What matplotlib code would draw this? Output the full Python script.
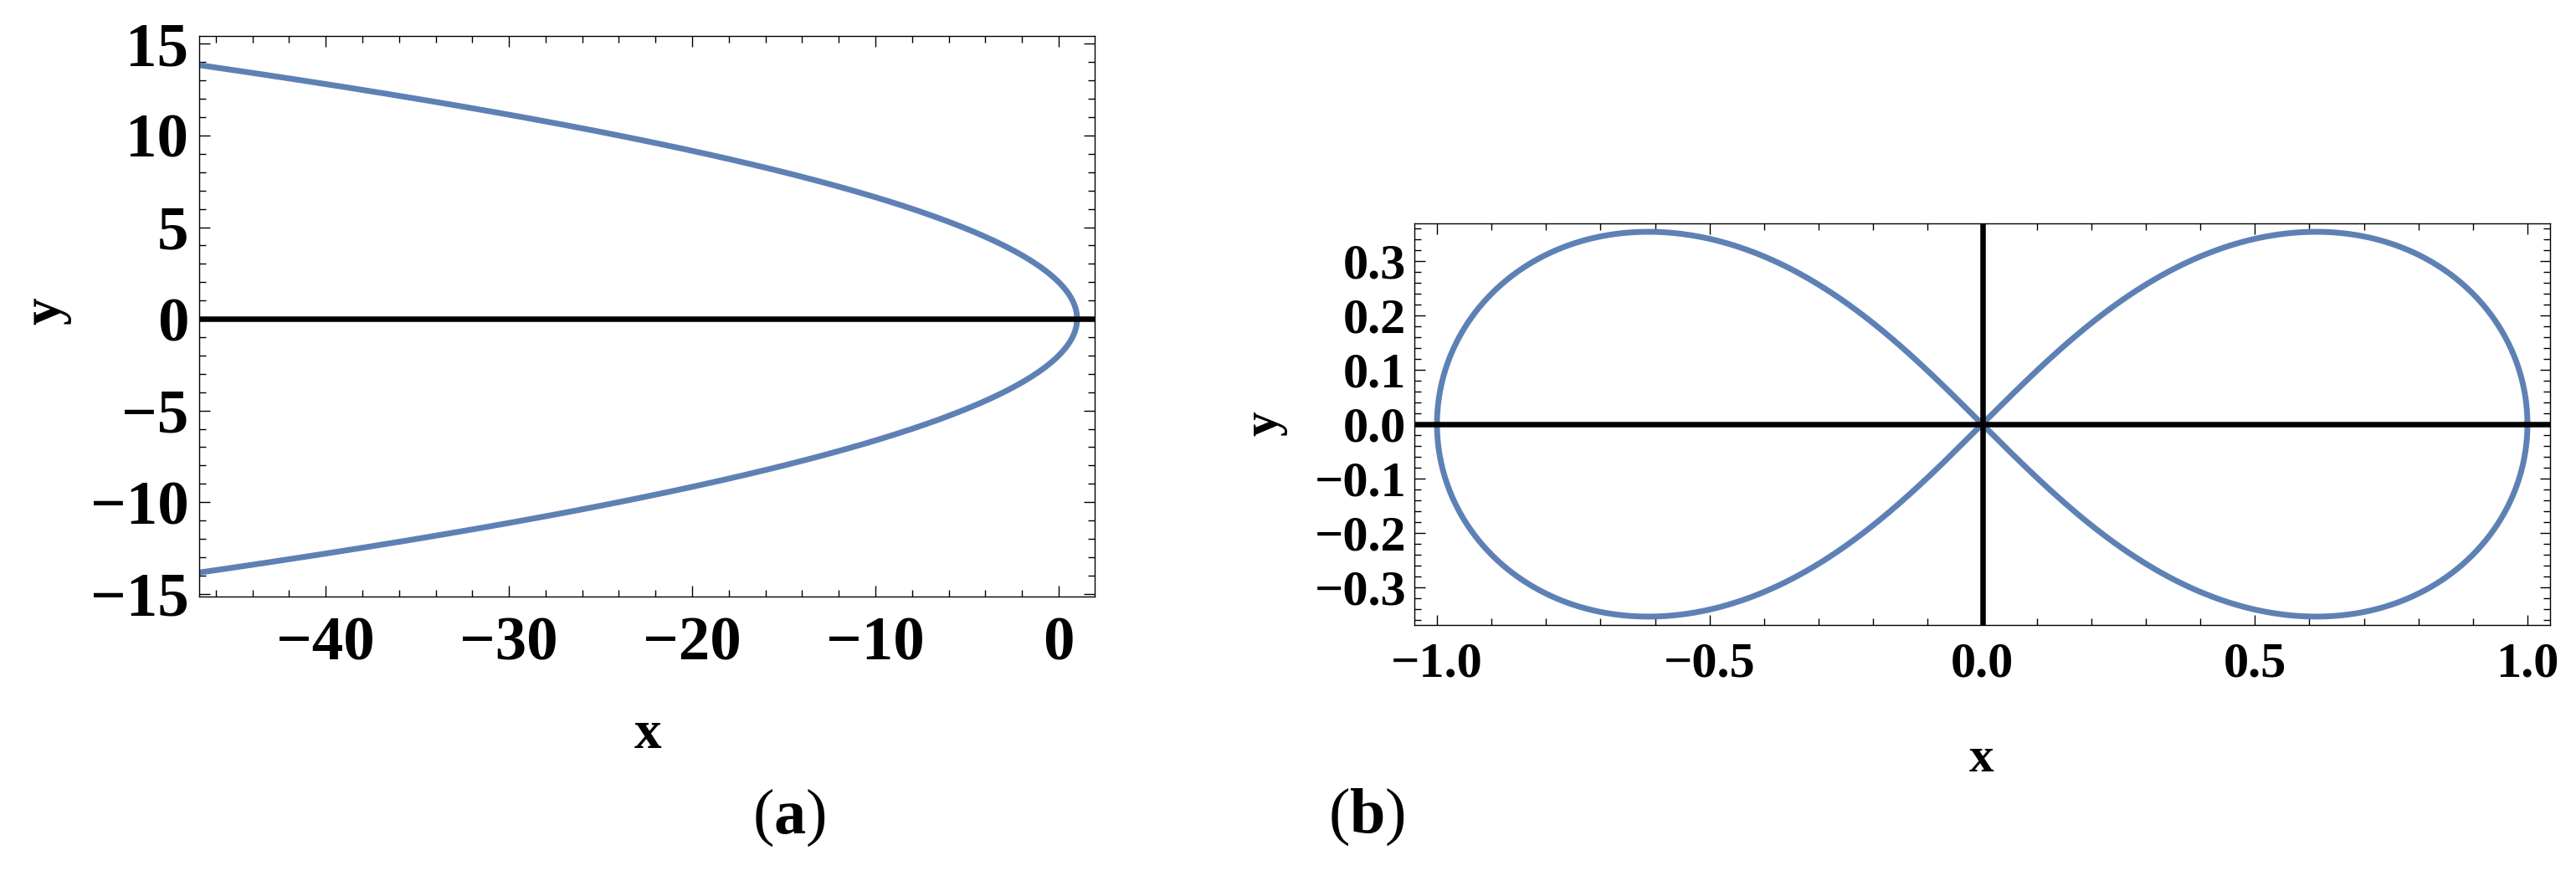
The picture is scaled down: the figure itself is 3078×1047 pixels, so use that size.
import numpy as np
import matplotlib.pyplot as plt
from matplotlib.ticker import MultipleLocator

plt.rcParams['font.family'] = 'Liberation Serif'
plt.rcParams['font.weight'] = 'bold'
plt.rcParams['mathtext.fontset'] = 'custom'
plt.rcParams['mathtext.rm'] = 'Liberation Serif:normal'
plt.rcParams['mathtext.bf'] = 'Liberation Serif:bold'

curve_color = '#5E81B5'

# panel (a): parabola x = vertex - y^2 / width
parab_vertex_x = 1.0
parab_width = 4.0
parab_y_max = 14.0

# panel (b): lemniscate, half-width (x reaches +-1)
lemn_half_width = 1.0

# axis ranges and ticks
a_xlim = (-46.9, 1.96)
a_ylim = (-15.15, 15.43)
a_xticks = [-40, -30, -20, -10, 0]
a_yticks = [-15, -10, -5, 0, 5, 10, 15]
b_xlim = (-1.0415, 1.0415)
b_ylim = (-0.369, 0.369)
b_xticks = [-1.0, -0.5, 0.0, 0.5, 1.0]
b_yticks = [-0.3, -0.2, -0.1, 0.0, 0.1, 0.2, 0.3]

fig = plt.figure(figsize=(30.78, 10.47), dpi=100)

# ---- panel (a)
ax1 = fig.add_axes([238 / 3078, 1 - 713 / 1047, 1070 / 3078, 670 / 1047])
yy = np.linspace(-parab_y_max, parab_y_max, 600)
xx = parab_vertex_x - yy ** 2 / parab_width
ax1.plot(xx, yy, color=curve_color, lw=5.0, zorder=2, solid_capstyle='butt')
ax1.axhline(0, color='black', lw=4.7, zorder=3)
ax1.set_xlim(*a_xlim)
ax1.set_ylim(*a_ylim)
ax1.set_xticks(a_xticks)
ax1.set_yticks(a_yticks)
ax1.xaxis.set_minor_locator(MultipleLocator(2))
ax1.yaxis.set_minor_locator(MultipleLocator(1))
ax1.tick_params(which='both', direction='in', top=True, right=True, width=1.0, labelsize=54)
ax1.tick_params(which='major', length=9.5)
ax1.tick_params(which='minor', length=6)
ax1.tick_params(axis='x', pad=17)
ax1.tick_params(axis='y', pad=9)
ax1.set_xticklabels([f'{t:d}'.replace('-', '\u2212') for t in a_xticks])
ax1.set_yticklabels([f'{t:d}'.replace('-', '\u2212') for t in a_yticks])
for s in ax1.spines.values():
    s.set_linewidth(1.0)

# ---- panel (b)
ax2 = fig.add_axes([1690 / 3078, 1 - 747 / 1047, 1357 / 3078, 480 / 1047])
t = np.linspace(0, 2 * np.pi, 2000)
lx = lemn_half_width * np.cos(t) / (1 + np.sin(t) ** 2)
ly = lemn_half_width * np.sin(t) * np.cos(t) / (1 + np.sin(t) ** 2)
ax2.plot(lx, ly, color=curve_color, lw=5.0, zorder=2)
ax2.axhline(0, color='black', lw=4.7, zorder=3)
ax2.axvline(0, color='black', lw=4.7, zorder=3)
ax2.set_xlim(*b_xlim)
ax2.set_ylim(*b_ylim)
ax2.set_xticks(b_xticks)
ax2.set_yticks(b_yticks)
ax2.xaxis.set_minor_locator(MultipleLocator(0.1))
ax2.yaxis.set_minor_locator(MultipleLocator(0.02))
ax2.tick_params(which='both', direction='in', top=True, right=True, width=1.0, labelsize=43.5)
ax2.tick_params(which='major', length=9)
ax2.tick_params(which='minor', length=5.5)
ax2.tick_params(axis='x', pad=15)
ax2.tick_params(axis='y', pad=7)
ax2.set_xticklabels([f'{t:.1f}'.replace('-', '\u2212') for t in b_xticks])
ax2.set_yticklabels([f'{t:.1f}'.replace('-', '\u2212') for t in b_yticks])
for s in ax2.spines.values():
    s.set_linewidth(1.0)

# axis labels and panel captions
fig.text(774 / 3078, 1 - 878 / 1047, 'x', fontsize=47, ha='center', va='center')
fig.text(55 / 3078, 1 - 372 / 1047, 'y', fontsize=47, ha='center', va='center', rotation=90)
fig.text(2368 / 3078, 1 - 908 / 1047, 'x', fontsize=42.5, ha='center', va='center')
fig.text(1511 / 3078, 1 - 506 / 1047, 'y', fontsize=42.5, ha='center', va='center', rotation=90)
fig.text(943 / 3078, 1 - 977 / 1047, r'$\mathrm{(}\mathbf{a}\mathrm{)}$', fontsize=55, ha='center', va='center')
fig.text(1633 / 3078, 1 - 976 / 1047, r'$\mathrm{(}\mathbf{b}\mathrm{)}$', fontsize=55, ha='center', va='center')

fig.savefig('out.png', dpi=100)
